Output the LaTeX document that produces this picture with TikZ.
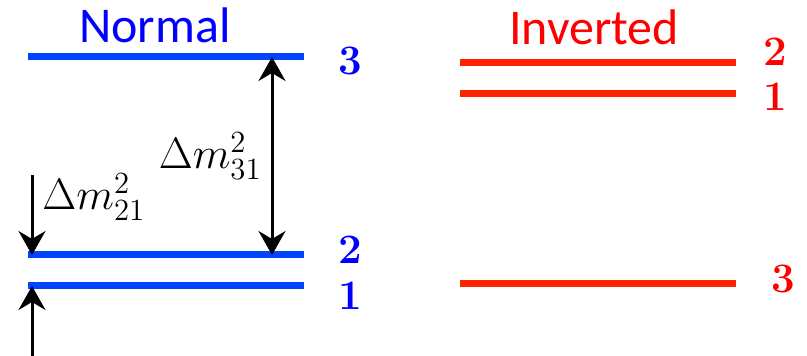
\documentclass[tikz,border=0pt]{standalone}
\usepackage{fix-cm}
\usepackage{fontspec}
\newfontfamily\carlito{Carlito}
\usepackage{xcolor}
\definecolor{colNormal}{HTML}{0044FF}
\definecolor{colNormalTxt}{HTML}{0000FF}
\definecolor{colInverted}{HTML}{FF2200}
\definecolor{colInvertedTxt}{HTML}{FF0000}
\usepackage{tikz}
\usetikzlibrary{arrows.meta}

\begin{document}
\begin{tikzpicture}[
		x=0.5pt, y=-0.5pt,
		>={Stealth[length=12pt, width=13.5pt, inset=4pt]},
		level/.style={line width=3.5pt},
		gap/.style={line width=1.5pt, black},
		title/.style={font=\carlito\fontsize{25}{30}\selectfont},
		num/.style={font=\fontsize{21}{25}\selectfont\bfseries},
		dm/.style={font=\fontsize{22}{26}\selectfont, inner sep=1pt}
	]
	\useasboundingbox (0,0) rectangle (807,356);

	% normal ordering
	\node[title, text=colNormalTxt] (tNormal) at (155,25) {Normal};
	\coordinate (n3L) at (28,57);  \coordinate (n3R) at (304,57);
	\coordinate (n2L) at (28,255); \coordinate (n2R) at (304,255);
	\coordinate (n1L) at (28,286); \coordinate (n1R) at (304,286);
	\draw[level, colNormal] (n3L) -- (n3R);
	\draw[level, colNormal] (n2L) -- (n2R);
	\draw[level, colNormal] (n1L) -- (n1R);
	\node[num, text=colNormalTxt] (lN3) at (350,61) {3};
	\node[num, text=colNormalTxt] (lN2) at (350,250) {2};
	\node[num, text=colNormalTxt] (lN1) at (350,296) {1};

	% mass splittings
	\coordinate (a31t) at (272,57);  \coordinate (a31b) at (272,255);
	\draw[gap, <->] (a31t) -- (a31b);
	\node[dm, anchor=east] (dm31) at (264,156) {$\Delta m^2_{31}$};

	\coordinate (a21t) at (32,175);  \coordinate (a21a) at (32,255);
	\coordinate (a21b) at (32,356);  \coordinate (a21c) at (32,286);
	\draw[gap, ->] (a21t) -- (a21a);
	\draw[gap, ->] (a21b) -- (a21c);
	\node[dm, anchor=west] (dm21) at (40,197) {$\Delta m^2_{21}$};

	% inverted ordering
	\node[title, text=colInvertedTxt] (tInverted) at (594,27) {Inverted};
	\coordinate (i2L) at (460,63);  \coordinate (i2R) at (736,63);
	\coordinate (i1L) at (460,94);  \coordinate (i1R) at (736,94);
	\coordinate (i3L) at (460,284); \coordinate (i3R) at (736,284);
	\draw[level, colInverted] (i2L) -- (i2R);
	\draw[level, colInverted] (i1L) -- (i1R);
	\draw[level, colInverted] (i3L) -- (i3R);
	\node[num, text=colInvertedTxt] (lI2) at (775,52) {2};
	\node[num, text=colInvertedTxt] (lI1) at (775,97) {1};
	\node[num, text=colInvertedTxt] (lI3) at (783,279) {3};
\end{tikzpicture}
\end{document}
